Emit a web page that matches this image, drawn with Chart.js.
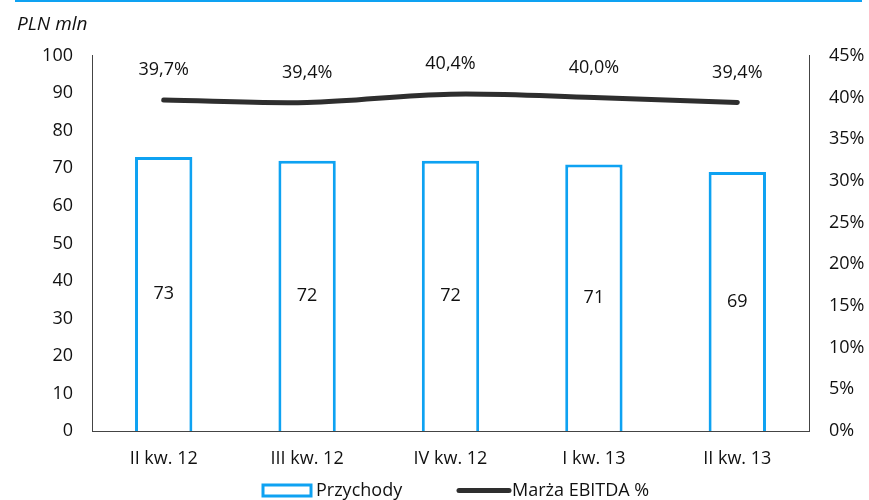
<!DOCTYPE html>
<html>
<head>
<meta charset="utf-8">
<script src="https://cdn.jsdelivr.net/npm/chart.js@4/dist/chart.umd.min.js"></script>
<style>
  body { margin: 0; background: #fff; }
  #wrap { position: relative; width: 869px; height: 500px; }
  #topline { position: absolute; left: 15px; top: 0; width: 847px; height: 2px; background: #0ea2f2; }
</style>
</head>
<body>
<div id="wrap">
  <div id="topline"></div>
  <canvas id="chart"></canvas>
</div>
<script>
// quarters and values
const quarters = ['II kw. 12', 'III kw. 12', 'IV kw. 12', 'I kw. 13', 'II kw. 13']
const revenue = [73, 72, 72, 71, 69]          // PLN mln
const ebitdaMargin = [39.7, 39.4, 40.4, 40.0, 39.4]  // %

const BLUE = '#0ea2f2'
const DARK = '#2e2e2e'
const FONT = "'Open Sans', sans-serif"
const SIZE = 18

Chart.defaults.font.family = FONT
Chart.defaults.font.size = SIZE
Chart.defaults.color = '#111'

// value labels: bar values in the middle of the bar, margin above the line points
const valueLabels = {
  id: 'valueLabels',
  afterDatasetsDraw(chart) {
    const ctx = chart.ctx
    ctx.save()
    ctx.font = SIZE + 'px ' + FONT
    ctx.fillStyle = '#111'
    ctx.textAlign = 'center'
    ctx.textBaseline = 'middle'
    chart.getDatasetMeta(0).data.forEach((bar, i) => {
      ctx.fillText(String(revenue[i]), bar.x, (bar.y + bar.base) / 2)
    })
    chart.getDatasetMeta(1).data.forEach((pt, i) => {
      ctx.fillText(ebitdaMargin[i].toFixed(1).replace('.', ',') + '%', pt.x, pt.y - 30)
    })
    ctx.restore()
  }
}

// legend under the axis: outlined box for bars, thick stroke for the line
const bottomLegend = {
  id: 'bottomLegend',
  afterDraw(chart) {
    const ctx = chart.ctx
    const y = 490.5
    ctx.save()
    ctx.strokeStyle = BLUE
    ctx.lineWidth = 3
    ctx.strokeRect(263, y - 5.5, 48, 11)
    ctx.strokeStyle = DARK
    ctx.lineWidth = 5
    ctx.lineCap = 'round'
    ctx.beginPath()
    ctx.moveTo(459, y)
    ctx.lineTo(509, y)
    ctx.stroke()
    ctx.font = SIZE + 'px ' + FONT
    ctx.fillStyle = '#111'
    ctx.textBaseline = 'middle'
    ctx.fillText(chart.data.datasets[0].label, 316, y)
    ctx.fillText(chart.data.datasets[1].label, 512, y)
    ctx.restore()
  }
}

new Chart(document.getElementById('chart'), {
  data: {
    labels: quarters,
    datasets: [
      {
        type: 'bar',
        label: 'Przychody',
        data: revenue,
        yAxisID: 'y',
        backgroundColor: '#ffffff',
        borderColor: BLUE,
        borderWidth: 3,
        categoryPercentage: 1,
        barPercentage: 0.4,
        order: 2
      },
      {
        type: 'line',
        label: 'Marża EBITDA %',
        data: ebitdaMargin,
        yAxisID: 'y1',
        borderColor: DARK,
        backgroundColor: DARK,
        borderWidth: 5,
        borderCapStyle: 'round',
        tension: 0.35,
        pointRadius: 0,
        pointHoverRadius: 0,
        order: 1
      }
    ]
  },
  options: {
    responsive: true,
    maintainAspectRatio: false,
    animation: false,
    layout: { padding: { left: 17, right: 0, top: 0, bottom: 30 } },
    plugins: {
      title: {
        display: true,
        text: 'PLN mln',
        align: 'start',
        color: '#111',
        font: { size: 19, style: 'italic', weight: 'normal' },
        padding: { top: 13, bottom: 20 }
      },
      legend: { display: false },
      tooltip: { enabled: false }
    },
    scales: {
      x: {
        offset: true,
        grid: { display: false },
        border: { display: true, color: '#444' },
        ticks: { padding: 9, color: '#111' },
        afterFit(scale) { scale.height = 39 }
      },
      y: {
        position: 'left',
        min: 0,
        max: 100,
        ticks: { stepSize: 10, padding: 11, color: '#111' },
        grid: { display: false },
        border: { display: true, color: '#444' },
        afterFit(scale) { scale.width = 75 }
      },
      y1: {
        position: 'right',
        min: 0,
        max: 45,
        ticks: { stepSize: 5, padding: 12, color: '#111', callback: v => v + '%' },
        grid: { display: false },
        border: { display: true, color: '#444' },
        afterFit(scale) { scale.width = 60 }
      }
    }
  },
  plugins: [valueLabels, bottomLegend]
})
</script>
</body>
</html>
